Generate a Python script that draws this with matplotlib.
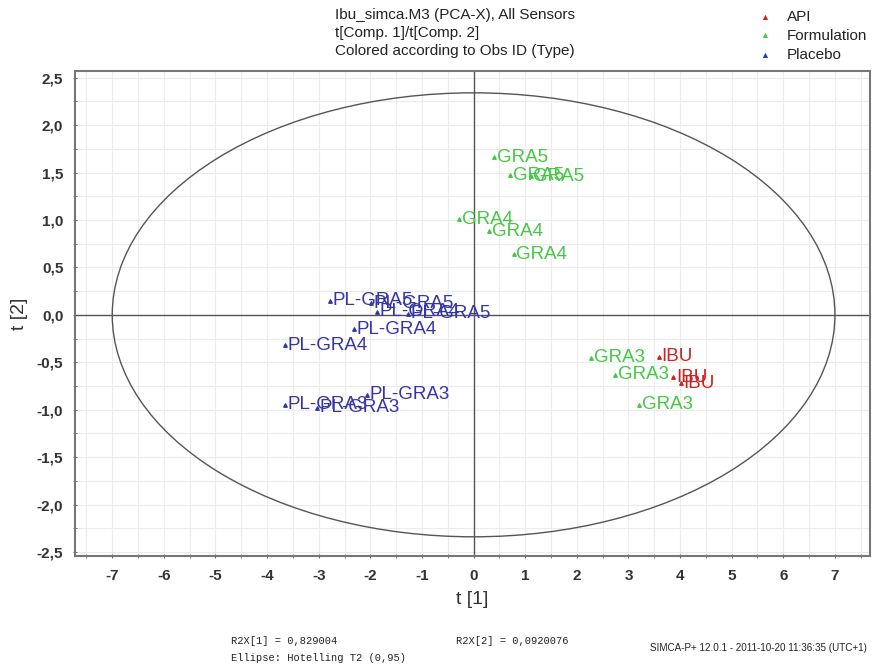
import numpy as np
import matplotlib.pyplot as plt
from matplotlib.patches import Ellipse

plt.rcParams['font.family'] = ['Liberation Sans', 'DejaVu Sans']

# score values t[1], t[2]
api_x = [3.59, 3.87, 4.02]
api_y = [-0.44, -0.66, -0.72]
api_lab = ["IBU", "IBU", "IBU"]

form_x = [0.40, 0.71, 1.11, -0.28, 0.30, 0.78, 2.28, 2.74, 3.21]
form_y = [1.66, 1.47, 1.46, 1.01, 0.88, 0.64, -0.45, -0.63, -0.95]
form_lab = ["GRA5", "GRA5", "GRA5", "GRA4", "GRA4", "GRA4", "GRA3", "GRA3", "GRA3"]

plac_x = [-2.78, -1.99, -1.27, -1.87, -2.32, -3.65, -3.65, -3.03, -2.06]
plac_y = [0.15, 0.12, 0.01, 0.03, -0.15, -0.32, -0.95, -0.98, -0.84]
plac_lab = ["PL-GRA5", "PL-GRA5", "PL-GRA5", "PL-GRA4", "PL-GRA4", "PL-GRA4",
            "PL-GRA3", "PL-GRA3", "PL-GRA3"]

groups = ["API", "Formulation", "Placebo"]
colors = ["#d02020", "#44c844", "#3535a8"]

ellipse_a, ellipse_b = 7.0, 2.34

xticks = np.arange(-7, 8, 1)
yticks = np.arange(-2.5, 2.51, 0.5)

fig = plt.figure(figsize=(8.73, 6.68), dpi=100)
ax = fig.add_axes([0.086, 0.168, 0.9106, 0.7257])

ax.set_xlim(-7.72, 7.68)
ax.set_ylim(-2.54, 2.57)

# light grid
ax.set_xticks(np.arange(-7.5, 7.6, 0.5), minor=True)
ax.set_yticks(np.arange(-2.5, 2.51, 0.25), minor=True)
ax.grid(True, which='both', color='#ececec', linewidth=0.8)
ax.set_axisbelow(True)

ax.set_xticks(xticks)
ax.set_xticklabels([str(v) for v in xticks])
ax.set_yticks(yticks)
ax.set_yticklabels([f"{v:.1f}".replace(".", ",") for v in yticks])
ax.tick_params(which='both', direction='inout', length=3, color='#666666',
               labelsize=11, labelcolor='#333333', pad=8)
ax.tick_params(axis='y', pad=7)
for lab in ax.get_xticklabels() + ax.get_yticklabels():
    lab.set_fontweight('bold')
for s in ax.spines.values():
    s.set_color('#777777')
    s.set_linewidth(1.5)

ax.axhline(0, color='#555555', linewidth=1.0)
ax.axvline(0, color='#555555', linewidth=1.0)

ax.add_patch(Ellipse((0, 0), 2 * ellipse_a, 2 * ellipse_b, fill=False,
                     edgecolor='#555555', linewidth=1.0))

for xs, ys, labs, c in [(form_x, form_y, form_lab, colors[1]),
                        (plac_x, plac_y, plac_lab, colors[2]),
                        (api_x, api_y, api_lab, colors[0])]:
    ax.scatter(xs, ys, marker='^', s=6, color=c, zorder=3)
    for x, y, t in zip(xs, ys, labs):
        ax.text(x + 0.05, y, t, color=c, fontsize=13.5, va='center', ha='left', zorder=4)

ax.set_xlabel("t [1]", fontsize=14, color='#333333', labelpad=6)
ax.set_ylabel("t [2]", fontsize=14, color='#333333', labelpad=6)

# header text
fig.text(335 / 873, 1 - 15 / 668, "Ibu_simca.M3 (PCA-X), All Sensors", fontsize=11,
         color='#222222', va='center')
fig.text(335 / 873, 1 - 33 / 668, "t[Comp. 1]/t[Comp. 2]", fontsize=11,
         color='#222222', va='center')
fig.text(335 / 873, 1 - 51 / 668, "Colored according to Obs ID (Type)", fontsize=11,
         color='#222222', va='center')

# legend
for i, (g, c) in enumerate(zip(groups, colors)):
    yy = 1 - (17 + i * 19) / 668
    fig.text(765 / 873, yy, "\u25b2", color=c, fontsize=6.5, va='center', ha='center')
    fig.text(787 / 873, yy, g, color='#222222', fontsize=11, va='center')

# footer
fig.text(231 / 873, 1 - 641 / 668, "R2X[1] = 0,829004", family='Liberation Mono',
         fontsize=7.5, color='#222222', va='center')
fig.text(456 / 873, 1 - 641 / 668, "R2X[2] = 0,0920076", family='Liberation Mono',
         fontsize=7.5, color='#222222', va='center')
fig.text(231 / 873, 1 - 658 / 668, "Ellipse: Hotelling T2 (0,95)", family='Liberation Mono',
         fontsize=7.5, color='#222222', va='center')
fig.text(650 / 873, 1 - 648 / 668, "SIMCA-P+ 12.0.1 - 2011-10-20 11:36:35 (UTC+1)",
         fontsize=7.1, color='#222222', va='center')

fig.savefig("out.png", dpi=100)
